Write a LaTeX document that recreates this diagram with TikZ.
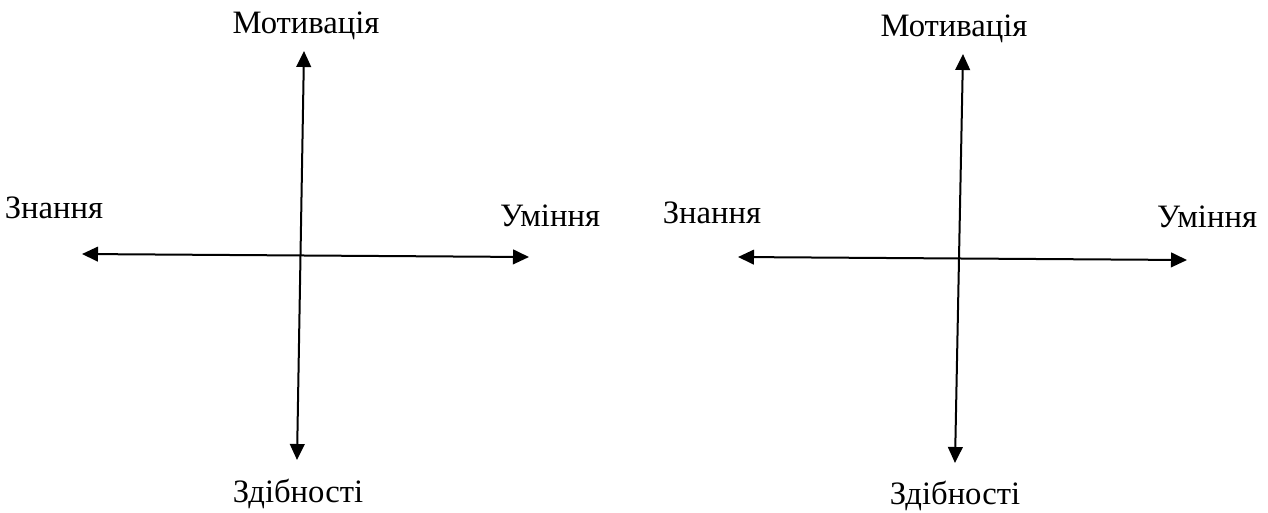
\documentclass[tikz,border=0pt]{standalone}
\usepackage{fontspec}
\setmainfont{Liberation Serif}
\newfontfamily\uaserif{Liberation Serif}
\usetikzlibrary{arrows.meta}

\begin{document}
\begin{tikzpicture}[x=0.75pt, y=-0.75pt,
  axis/.style={{Triangle[length=12pt,width=11pt]}-{Triangle[length=12pt,width=11pt]}, line width=1.5pt},
  lbl/.style={anchor=base, inner sep=0pt, font=\uaserif\fontsize{24.5}{28}\selectfont}]
\useasboundingbox (0,0) rectangle (1268,512);

%left cross
\coordinate (motL) at (304,51);
\coordinate (zdL) at (297,460);
\coordinate (znL) at (82,254);
\coordinate (umL) at (529,257);
\draw[axis] (zdL) -- (motL); % vertical axis
\draw[axis] (znL) -- (umL); % horizontal axis
\node[lbl] (motLtxt) at (306,33) {Мотивація};
\node[lbl] (znLtxt) at (54,218) {Знання};
\node[lbl] (umLtxt) at (550,226) {Уміння};
\node[lbl] (zdLtxt) at (298,502) {Здібності};

%right cross
\coordinate (motR) at (963,54);
\coordinate (zdR) at (955,463);
\coordinate (znR) at (738,257);
\coordinate (umR) at (1187,260);
\draw[axis] (zdR) -- (motR); % vertical axis
\draw[axis] (znR) -- (umR); % horizontal axis
\node[lbl] (motRtxt) at (954,36) {Мотивація};
\node[lbl] (znRtxt) at (712,223) {Знання};
\node[lbl] (umRtxt) at (1207,227) {Уміння};
\node[lbl] (zdRtxt) at (955,504) {Здібності};

\end{tikzpicture}
\end{document}
